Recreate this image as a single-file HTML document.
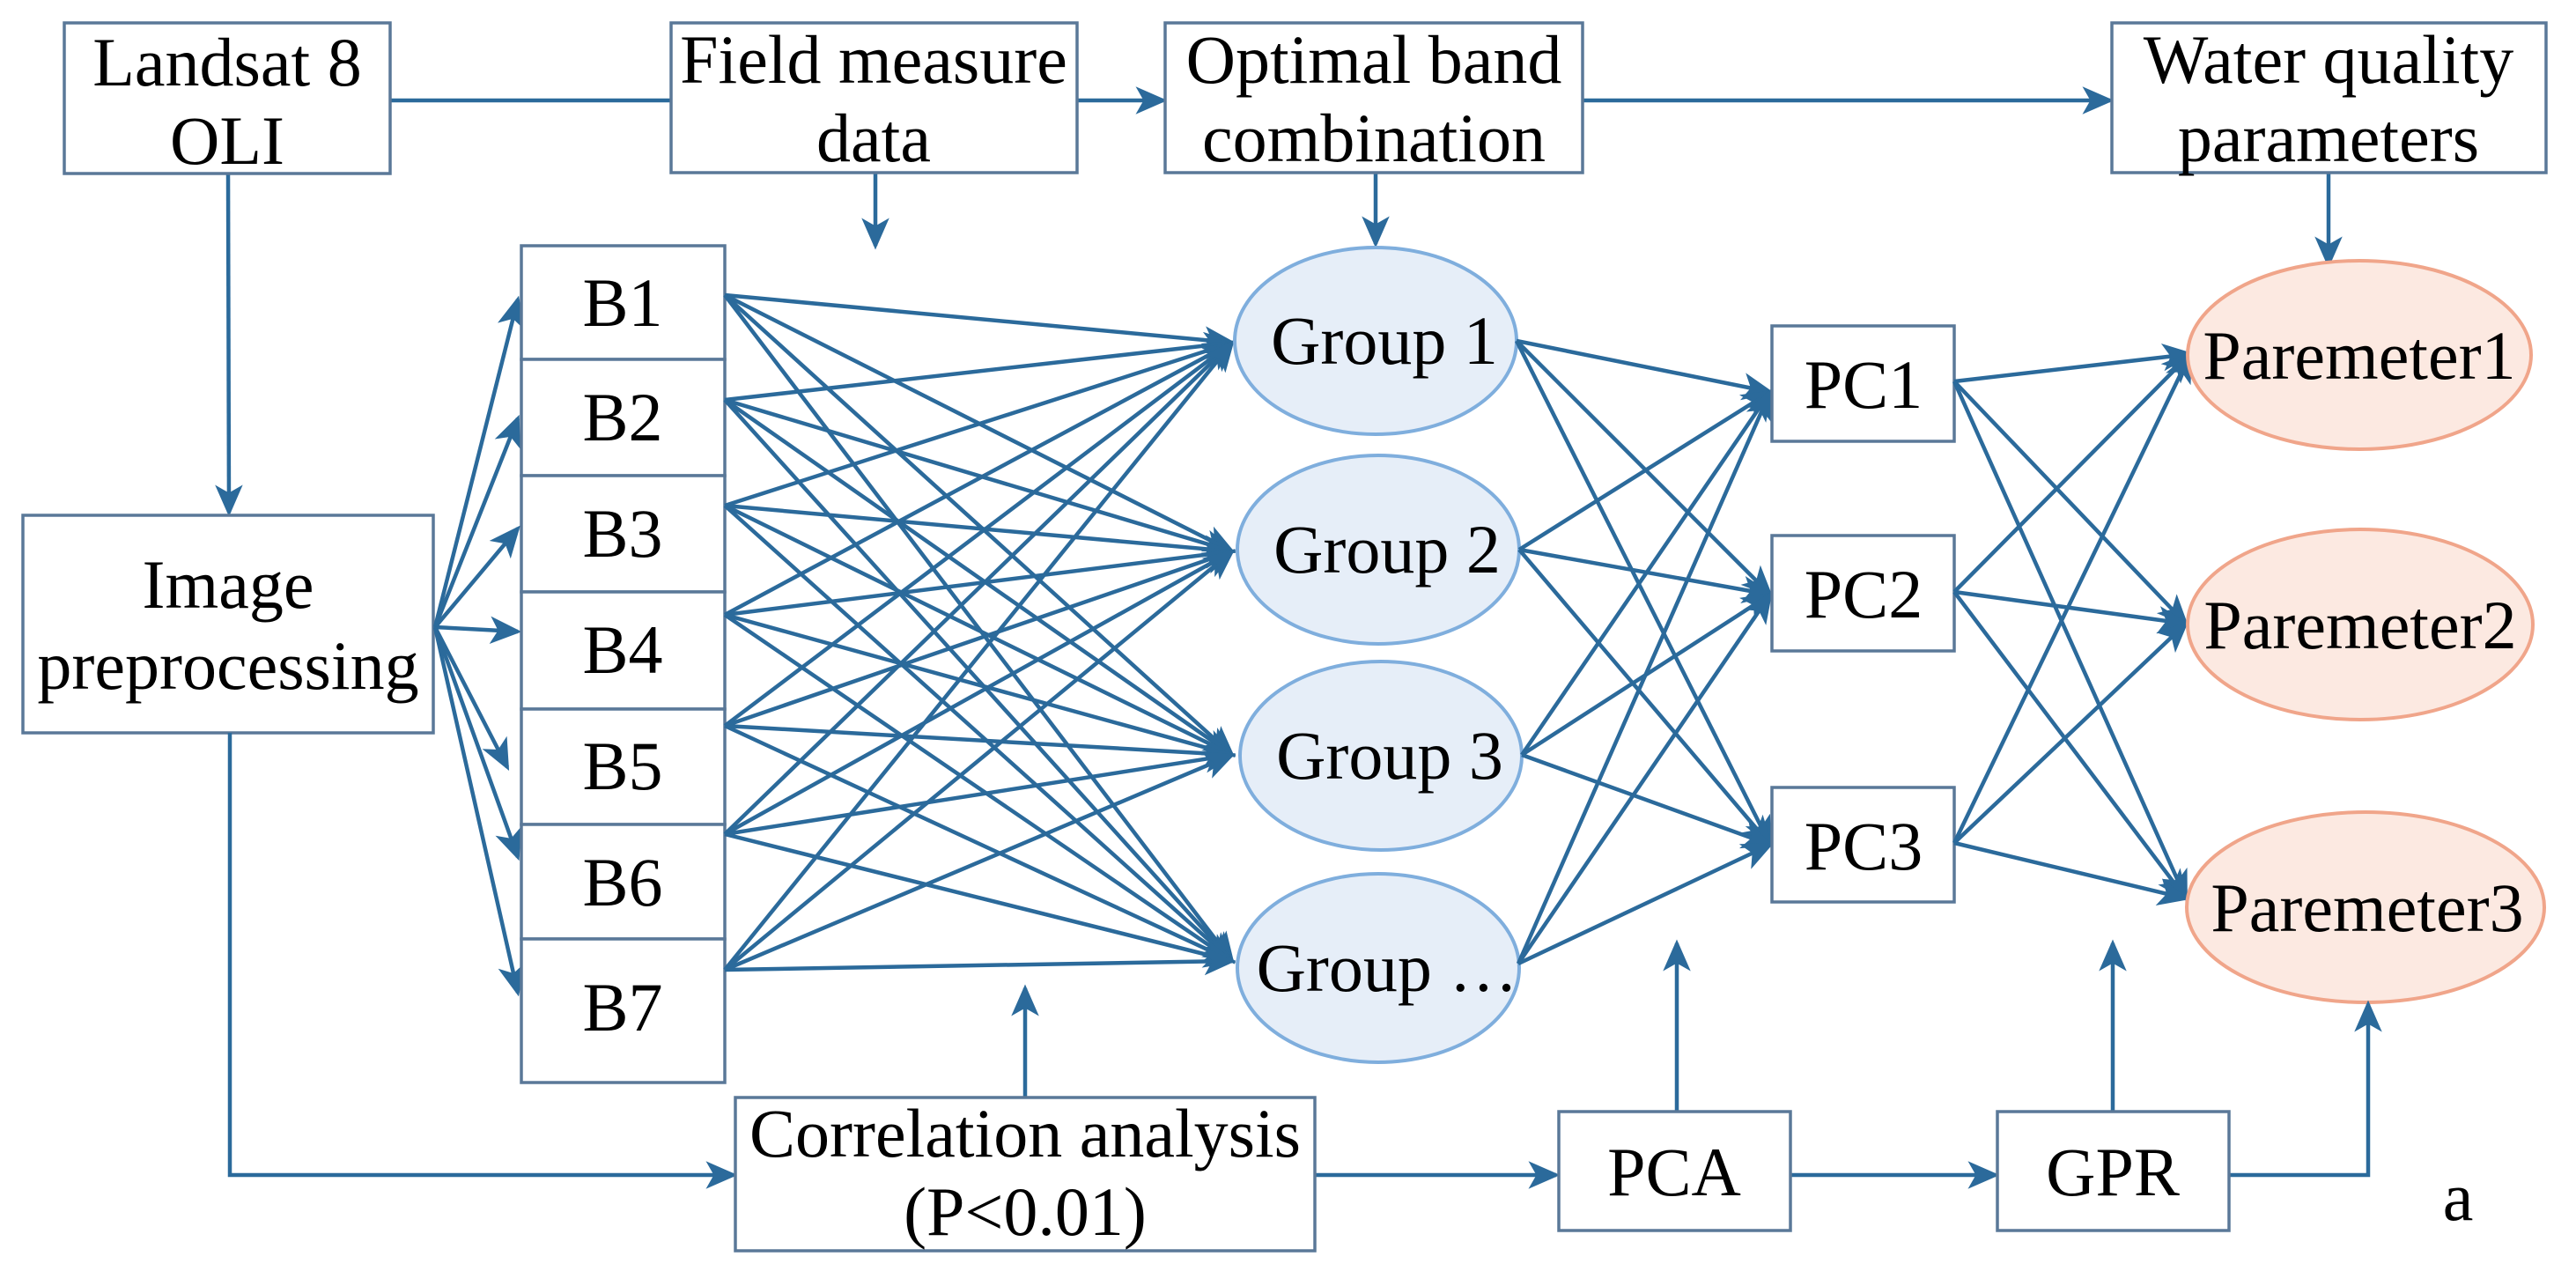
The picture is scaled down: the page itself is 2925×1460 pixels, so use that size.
<!DOCTYPE html>
<html><head><meta charset="utf-8"><style>
html,body{margin:0;padding:0;background:#fff;}
svg{display:block;}
svg text{font-family:'Liberation Serif','Times New Roman',Times,serif;font-size:78px;fill:#000;text-anchor:middle;}
.b{fill:#fff;stroke:#5a7898;stroke-width:3.5;}
.a{stroke:#2b6a9b;stroke-width:4.5;fill:none;marker-end:url(#ar);}
.l{stroke:#2b6a9b;stroke-width:4.5;fill:none;}
.g{fill:#e6eef8;stroke:#7faedd;stroke-width:4;}
.p{fill:#fce9e1;stroke:#f0a58a;stroke-width:4;}
</style></head><body>
<svg width="2925" height="1460" viewBox="0 0 2925 1460" xmlns="http://www.w3.org/2000/svg" font-family="Liberation Serif, Times New Roman, serif">
<defs><marker id="ar" markerWidth="8" markerHeight="8" refX="7" refY="4" orient="auto" markerUnits="strokeWidth"><path d="M0,0.5 L8,4 L0,7.5 L2,4 Z" fill="#2b6a9b"/></marker></defs>

<line class="l" x1="443" y1="114" x2="762" y2="114"/>
<line class="a" x1="1223" y1="114" x2="1321" y2="114"/>
<line class="a" x1="1797" y1="114" x2="2396" y2="114"/>
<line class="a" x1="994" y1="196" x2="994" y2="279"/>
<line class="a" x1="1562" y1="196" x2="1562" y2="277"/>
<line class="a" x1="2644" y1="196" x2="2644" y2="300"/>
<line class="a" x1="259" y1="197" x2="260" y2="582"/>

<rect class="b" x="73" y="26" width="370" height="171"/>
<text x="258" y="97">Landsat 8</text><text x="258" y="186">OLI</text>
<rect class="b" x="762" y="26" width="461" height="170"/>
<text x="992" y="94">Field measure</text><text x="992" y="183">data</text>
<rect class="b" x="1323" y="26" width="474" height="170"/>
<text x="1560" y="94">Optimal band</text><text x="1560" y="183">combination</text>
<rect class="b" x="2398" y="26" width="493" height="170"/>
<text x="2644" y="94">Water quality</text><text x="2644" y="183">parameters</text>

<rect class="b" x="26" y="585" width="466" height="247"/>
<text x="259" y="690">Image</text><text x="259" y="782">preprocessing</text>

<g>
<line class="a" x1="494" y1="712" x2="588" y2="340"/>
<line class="a" x1="494" y1="712" x2="588" y2="475"/>
<line class="a" x1="494" y1="712" x2="588" y2="600"/>
<line class="a" x1="494" y1="712" x2="588" y2="717"/>
<line class="a" x1="494" y1="712" x2="576" y2="871"/>
<line class="a" x1="494" y1="712" x2="588" y2="973"/>
<line class="a" x1="494" y1="712" x2="588" y2="1127"/>
</g>

<rect class="b" x="592" y="279" width="231" height="129"/><text x="707" y="370">B1</text>
<rect class="b" x="592" y="408" width="231" height="132"/><text x="707" y="500">B2</text>
<rect class="b" x="592" y="540" width="231" height="132"/><text x="707" y="632">B3</text>
<rect class="b" x="592" y="672" width="231" height="133"/><text x="707" y="764">B4</text>
<rect class="b" x="592" y="805" width="231" height="131"/><text x="707" y="896">B5</text>
<rect class="b" x="592" y="936" width="231" height="130"/><text x="707" y="1028">B6</text>
<rect class="b" x="592" y="1066" width="231" height="163"/><text x="707" y="1170">B7</text>

<g>
<line class="a" x1="823" y1="335" x2="1399" y2="389"/><line class="a" x1="823" y1="335" x2="1399" y2="626"/><line class="a" x1="823" y1="335" x2="1399" y2="857"/><line class="a" x1="823" y1="335" x2="1399" y2="1091"/>
<line class="a" x1="823" y1="454" x2="1399" y2="389"/><line class="a" x1="823" y1="454" x2="1399" y2="626"/><line class="a" x1="823" y1="454" x2="1399" y2="857"/><line class="a" x1="823" y1="454" x2="1399" y2="1091"/>
<line class="a" x1="823" y1="574" x2="1399" y2="389"/><line class="a" x1="823" y1="574" x2="1399" y2="626"/><line class="a" x1="823" y1="574" x2="1399" y2="857"/><line class="a" x1="823" y1="574" x2="1399" y2="1091"/>
<line class="a" x1="823" y1="698" x2="1399" y2="389"/><line class="a" x1="823" y1="698" x2="1399" y2="626"/><line class="a" x1="823" y1="698" x2="1399" y2="857"/><line class="a" x1="823" y1="698" x2="1399" y2="1091"/>
<line class="a" x1="823" y1="824" x2="1399" y2="389"/><line class="a" x1="823" y1="824" x2="1399" y2="626"/><line class="a" x1="823" y1="824" x2="1399" y2="857"/><line class="a" x1="823" y1="824" x2="1399" y2="1091"/>
<line class="a" x1="823" y1="947" x2="1399" y2="389"/><line class="a" x1="823" y1="947" x2="1399" y2="626"/><line class="a" x1="823" y1="947" x2="1399" y2="857"/><line class="a" x1="823" y1="947" x2="1399" y2="1091"/>
<line class="a" x1="823" y1="1101" x2="1399" y2="389"/><line class="a" x1="823" y1="1101" x2="1399" y2="626"/><line class="a" x1="823" y1="1101" x2="1399" y2="857"/><line class="a" x1="823" y1="1101" x2="1399" y2="1091"/>
</g>

<ellipse class="g" cx="1562" cy="387" rx="160" ry="106"/><text x="1572" y="413">Group 1</text>
<ellipse class="g" cx="1565" cy="624" rx="160" ry="107"/><text x="1575" y="650">Group 2</text>
<ellipse class="g" cx="1568" cy="858" rx="160" ry="107"/><text x="1578" y="884">Group 3</text>
<ellipse class="g" cx="1565" cy="1099" rx="160" ry="107"/><text x="1575" y="1125">Group …</text>

<g>
<line class="a" x1="1722" y1="387" x2="2010" y2="445"/><line class="a" x1="1722" y1="387" x2="2010" y2="675"/><line class="a" x1="1722" y1="387" x2="2010" y2="959"/>
<line class="a" x1="1725" y1="624" x2="2010" y2="445"/><line class="a" x1="1725" y1="624" x2="2010" y2="675"/><line class="a" x1="1725" y1="624" x2="2010" y2="959"/>
<line class="a" x1="1728" y1="857" x2="2010" y2="445"/><line class="a" x1="1728" y1="857" x2="2010" y2="675"/><line class="a" x1="1728" y1="857" x2="2010" y2="959"/>
<line class="a" x1="1724" y1="1094" x2="2010" y2="445"/><line class="a" x1="1724" y1="1094" x2="2010" y2="675"/><line class="a" x1="1724" y1="1094" x2="2010" y2="959"/>
</g>

<rect class="b" x="2012" y="370" width="207" height="131"/><text x="2116" y="463">PC1</text>
<rect class="b" x="2012" y="608" width="207" height="131"/><text x="2116" y="701">PC2</text>
<rect class="b" x="2012" y="894" width="207" height="130"/><text x="2116" y="987">PC3</text>

<g>
<line class="a" x1="2219" y1="433" x2="2487" y2="402"/><line class="a" x1="2219" y1="433" x2="2482" y2="708"/><line class="a" x1="2219" y1="433" x2="2482" y2="1020"/>
<line class="a" x1="2219" y1="672" x2="2487" y2="402"/><line class="a" x1="2219" y1="672" x2="2482" y2="708"/><line class="a" x1="2219" y1="672" x2="2482" y2="1020"/>
<line class="a" x1="2219" y1="957" x2="2487" y2="402"/><line class="a" x1="2219" y1="957" x2="2482" y2="708"/><line class="a" x1="2219" y1="957" x2="2482" y2="1020"/>
</g>

<ellipse class="p" cx="2679" cy="403" rx="195" ry="107"/><text x="2679" y="430">Paremeter1</text>
<ellipse class="p" cx="2680" cy="709" rx="196" ry="108"/><text x="2680" y="736">Paremeter2</text>
<ellipse class="p" cx="2686" cy="1030" rx="203" ry="108"/><text x="2688" y="1057">Paremeter3</text>

<polyline class="a" points="261,832 261,1334 833,1334"/>
<line class="a" x1="1164" y1="1246" x2="1164" y2="1122"/>
<line class="a" x1="1493" y1="1334" x2="1767" y2="1334"/>
<line class="a" x1="1904" y1="1262" x2="1904" y2="1071"/>
<line class="a" x1="2033" y1="1334" x2="2266" y2="1334"/>
<line class="a" x1="2399" y1="1262" x2="2399" y2="1071"/>
<polyline class="a" points="2531,1334 2689,1334 2689,1140"/>

<rect class="b" x="835" y="1246" width="658" height="174"/>
<text x="1164" y="1313">Correlation analysis</text><text x="1164" y="1402">(P&lt;0.01)</text>
<rect class="b" x="1770" y="1262" width="263" height="135"/><text x="1901" y="1357">PCA</text>
<rect class="b" x="2268" y="1262" width="263" height="135"/><text x="2399" y="1357">GPR</text>
<text x="2791" y="1385">a</text>
</svg>
</body></html>
